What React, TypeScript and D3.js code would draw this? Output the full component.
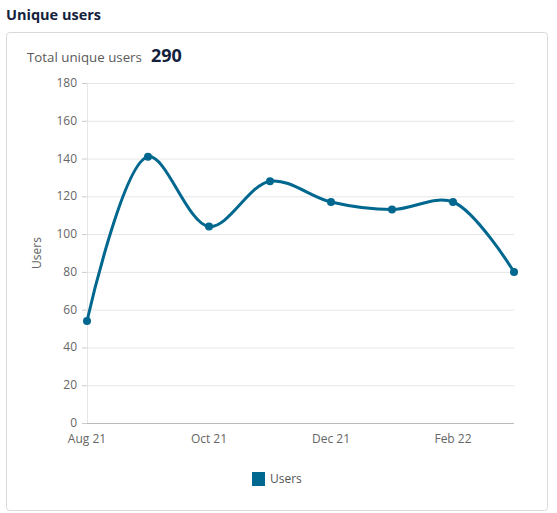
import React from "react";
import * as d3 from "d3";

const months = ["Aug 21", "Sep 21", "Oct 21", "Nov 21", "Dec 21", "Jan 22", "Feb 22", "Mar 22"];
const users = [54, 141, 104, 128, 117, 113, 117, 80];
const yTicks = [0, 20, 40, 60, 80, 100, 120, 140, 160, 180];
const xTickLabels = ["Aug 21", "Oct 21", "Dec 21", "Feb 22"];
const totalUnique = 290;

const W = 557;
const H = 513;
const plot = { left: 87, right: 514, top: 83, bottom: 423 };
const lineColor = "#00678f";
const font = "'Open Sans', 'Noto Sans', sans-serif";

export default function App() {
  const x = d3.scalePoint<string>().domain(months).range([plot.left, plot.right]);
  const y = d3.scaleLinear().domain([0, 180]).range([plot.bottom, plot.top]);
  const line = d3
    .line<number>()
    .x((_, i) => x(months[i]) as number)
    .y((d) => y(d))
    .curve(d3.curveCatmullRom.alpha(0.5));

  return (
    <svg
      width={W}
      height={H}
      style={{ position: "fixed", left: 0, top: 0, display: "block", background: "#fff" }}
    >
      <text x={6} y={20} fontFamily={font} fontSize={14.5} fontWeight={700} fill="#14213d">
        Unique users
      </text>
      <rect x={6.5} y={32.5} width={541} height={478} rx={3} fill="#fff" stroke="#d9d9d9" />
      <text x={27} y={62} fontFamily={font} fontSize={13.3} fill="#5a5a5a">
        Total unique users
      </text>
      <text x={151} y={62} fontFamily={font} fontSize={18} fontWeight={700} fill="#14213d">
        {totalUnique}
      </text>

      {yTicks.map((t) => (
        <g key={t}>
          {t > 0 && (
            <line x1={plot.left} x2={plot.right} y1={y(t) + 0.5} y2={y(t) + 0.5} stroke="#e6e6e6" />
          )}
          <line x1={plot.left - 5} x2={plot.left} y1={y(t) + 0.5} y2={y(t) + 0.5} stroke="#ccc" />
          <text
            x={plot.left - 10}
            y={y(t) + 4}
            textAnchor="end"
            fontFamily={font}
            fontSize={12}
            fill="#666"
          >
            {t}
          </text>
        </g>
      ))}
      <line x1={plot.left + 0.5} x2={plot.left + 0.5} y1={plot.top} y2={plot.bottom} stroke="#e6e6e6" />
      <line x1={plot.left} x2={plot.right} y1={plot.bottom + 0.5} y2={plot.bottom + 0.5} stroke="#bbb" />

      {xTickLabels.map((m) => (
        <text
          key={m}
          x={x(m) as number}
          y={443}
          textAnchor="middle"
          fontFamily={font}
          fontSize={12}
          fill="#666"
        >
          {m}
        </text>
      ))}

      <text
        transform={`translate(41, ${(plot.top + plot.bottom) / 2}) rotate(-90)`}
        textAnchor="middle"
        fontFamily={font}
        fontSize={12}
        fill="#666"
      >
        Users
      </text>

      <path d={line(users) || ""} fill="none" stroke={lineColor} strokeWidth={3} strokeLinecap="round" />
      {users.map((v, i) => (
        <circle key={i} cx={x(months[i]) as number} cy={y(v)} r={4} fill={lineColor} />
      ))}

      <rect x={252} y={472} width={13} height={14} fill={lineColor} />
      <text x={270} y={483} fontFamily={font} fontSize={12} fill="#555">
        Users
      </text>
    </svg>
  );
}
